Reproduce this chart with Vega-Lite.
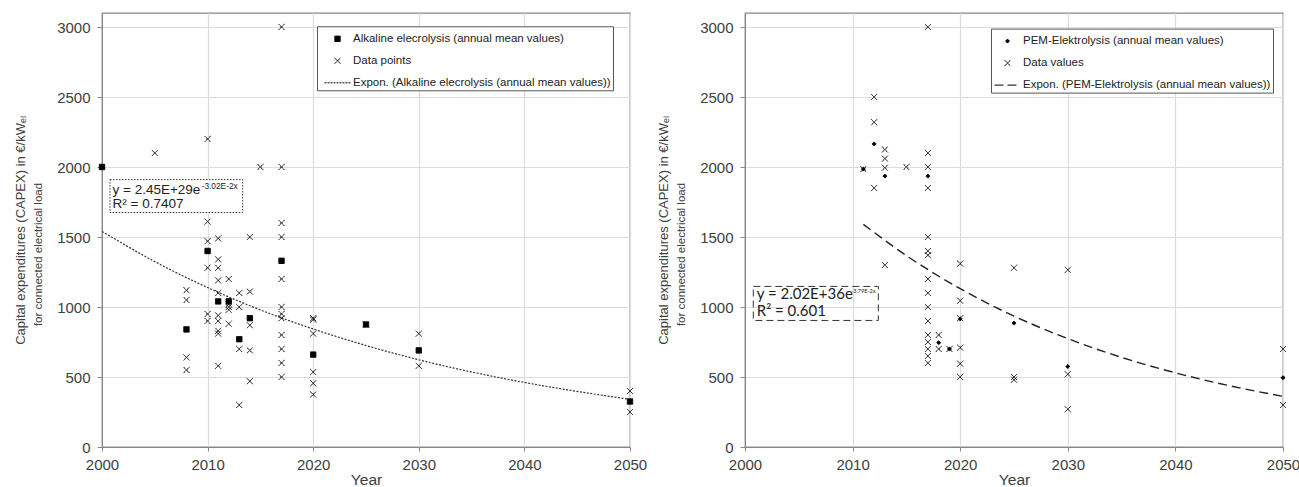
{
  "$schema": "https://vega.github.io/schema/vega-lite/v6.json",
  "background": "white",
  "padding": {"left": 13, "top": 12, "right": 0, "bottom": 0},
  "config": {
    "font": "Liberation Sans",
    "view": {"stroke": "#888888", "strokeWidth": 1.3},
    "axis": {
      "domainColor": "#888888", "tickColor": "#888888", "gridColor": "#dcdcdc", "gridWidth": 1.2,
      "labelColor": "#404040", "titleColor": "#404040", "labelFontSize": 15, "titleFontWeight": "normal",
      "labelFont": "Liberation Sans", "titleFont": "Liberation Sans"
    }
  },
  "datasets": {
    "leftPts": [
      {"year": 2005, "value": 2100, "series": "Data points"},
      {"year": 2008, "value": 1120, "series": "Data points"},
      {"year": 2008, "value": 1050, "series": "Data points"},
      {"year": 2008, "value": 640, "series": "Data points"},
      {"year": 2008, "value": 550, "series": "Data points"},
      {"year": 2010, "value": 2200, "series": "Data points"},
      {"year": 2010, "value": 1610, "series": "Data points"},
      {"year": 2010, "value": 1470, "series": "Data points"},
      {"year": 2010, "value": 1280, "series": "Data points"},
      {"year": 2010, "value": 950, "series": "Data points"},
      {"year": 2010, "value": 900, "series": "Data points"},
      {"year": 2011, "value": 1490, "series": "Data points"},
      {"year": 2011, "value": 1340, "series": "Data points"},
      {"year": 2011, "value": 1280, "series": "Data points"},
      {"year": 2011, "value": 1190, "series": "Data points"},
      {"year": 2011, "value": 1100, "series": "Data points"},
      {"year": 2011, "value": 940, "series": "Data points"},
      {"year": 2011, "value": 900, "series": "Data points"},
      {"year": 2011, "value": 830, "series": "Data points"},
      {"year": 2011, "value": 810, "series": "Data points"},
      {"year": 2011, "value": 580, "series": "Data points"},
      {"year": 2012, "value": 1200, "series": "Data points"},
      {"year": 2012, "value": 1020, "series": "Data points"},
      {"year": 2012, "value": 1000, "series": "Data points"},
      {"year": 2012, "value": 980, "series": "Data points"},
      {"year": 2012, "value": 880, "series": "Data points"},
      {"year": 2013, "value": 1100, "series": "Data points"},
      {"year": 2013, "value": 1000, "series": "Data points"},
      {"year": 2013, "value": 700, "series": "Data points"},
      {"year": 2013, "value": 300, "series": "Data points"},
      {"year": 2014, "value": 1500, "series": "Data points"},
      {"year": 2014, "value": 1110, "series": "Data points"},
      {"year": 2014, "value": 870, "series": "Data points"},
      {"year": 2014, "value": 690, "series": "Data points"},
      {"year": 2014, "value": 470, "series": "Data points"},
      {"year": 2015, "value": 2000, "series": "Data points"},
      {"year": 2017, "value": 3000, "series": "Data points"},
      {"year": 2017, "value": 2000, "series": "Data points"},
      {"year": 2017, "value": 1600, "series": "Data points"},
      {"year": 2017, "value": 1500, "series": "Data points"},
      {"year": 2017, "value": 1200, "series": "Data points"},
      {"year": 2017, "value": 1000, "series": "Data points"},
      {"year": 2017, "value": 950, "series": "Data points"},
      {"year": 2017, "value": 920, "series": "Data points"},
      {"year": 2017, "value": 800, "series": "Data points"},
      {"year": 2017, "value": 700, "series": "Data points"},
      {"year": 2017, "value": 600, "series": "Data points"},
      {"year": 2017, "value": 500, "series": "Data points"},
      {"year": 2020, "value": 920, "series": "Data points"},
      {"year": 2020, "value": 910, "series": "Data points"},
      {"year": 2020, "value": 810, "series": "Data points"},
      {"year": 2020, "value": 535, "series": "Data points"},
      {"year": 2020, "value": 455, "series": "Data points"},
      {"year": 2020, "value": 375, "series": "Data points"},
      {"year": 2025, "value": 875, "series": "Data points"},
      {"year": 2030, "value": 810, "series": "Data points"},
      {"year": 2030, "value": 580, "series": "Data points"},
      {"year": 2050, "value": 400, "series": "Data points"},
      {"year": 2050, "value": 250, "series": "Data points"},
      {"year": 2000, "value": 2000, "series": "Alkaline elecrolysis (annual mean values)"},
      {"year": 2008, "value": 840, "series": "Alkaline elecrolysis (annual mean values)"},
      {"year": 2010, "value": 1400, "series": "Alkaline elecrolysis (annual mean values)"},
      {"year": 2011, "value": 1040, "series": "Alkaline elecrolysis (annual mean values)"},
      {"year": 2012, "value": 1040, "series": "Alkaline elecrolysis (annual mean values)"},
      {"year": 2013, "value": 770, "series": "Alkaline elecrolysis (annual mean values)"},
      {"year": 2014, "value": 920, "series": "Alkaline elecrolysis (annual mean values)"},
      {"year": 2017, "value": 1330, "series": "Alkaline elecrolysis (annual mean values)"},
      {"year": 2020, "value": 660, "series": "Alkaline elecrolysis (annual mean values)"},
      {"year": 2025, "value": 875, "series": "Alkaline elecrolysis (annual mean values)"},
      {"year": 2030, "value": 690, "series": "Alkaline elecrolysis (annual mean values)"},
      {"year": 2050, "value": 325, "series": "Alkaline elecrolysis (annual mean values)"}
    ],
    "leftTrend": [
      {"year": 2000, "value": 1540}, {"year": 2005, "value": 1324}, {"year": 2010, "value": 1139},
      {"year": 2015, "value": 979}, {"year": 2020, "value": 843}, {"year": 2025, "value": 725},
      {"year": 2030, "value": 623}, {"year": 2035, "value": 536}, {"year": 2040, "value": 461},
      {"year": 2045, "value": 397}, {"year": 2050, "value": 341}
    ],
    "leftBox": [{"x0": 2000.76, "x1": 2013.32, "y0": 1910, "y1": 1675}],
    "leftEq": [
      {"x": 2001.0, "y": 1808, "text": "y = 2.45E+29e"},
      {"x": 2001.0, "y": 1708, "text": "R² = 0.7407"}
    ],
    "leftSup": [{"x": 2009.44, "y": 1842, "text": "-3.02E-2x"}],
    "rightPts": [
      {"year": 2011, "value": 1985, "series": "Data values"},
      {"year": 2012, "value": 2500, "series": "Data values"},
      {"year": 2012, "value": 2320, "series": "Data values"},
      {"year": 2012, "value": 1850, "series": "Data values"},
      {"year": 2013, "value": 2125, "series": "Data values"},
      {"year": 2013, "value": 2060, "series": "Data values"},
      {"year": 2013, "value": 1995, "series": "Data values"},
      {"year": 2013, "value": 1300, "series": "Data values"},
      {"year": 2015, "value": 2000, "series": "Data values"},
      {"year": 2017, "value": 3000, "series": "Data values"},
      {"year": 2017, "value": 2100, "series": "Data values"},
      {"year": 2017, "value": 2000, "series": "Data values"},
      {"year": 2017, "value": 1850, "series": "Data values"},
      {"year": 2017, "value": 1500, "series": "Data values"},
      {"year": 2017, "value": 1400, "series": "Data values"},
      {"year": 2017, "value": 1370, "series": "Data values"},
      {"year": 2017, "value": 1200, "series": "Data values"},
      {"year": 2017, "value": 1100, "series": "Data values"},
      {"year": 2017, "value": 1000, "series": "Data values"},
      {"year": 2017, "value": 900, "series": "Data values"},
      {"year": 2017, "value": 800, "series": "Data values"},
      {"year": 2017, "value": 750, "series": "Data values"},
      {"year": 2017, "value": 700, "series": "Data values"},
      {"year": 2017, "value": 650, "series": "Data values"},
      {"year": 2017, "value": 600, "series": "Data values"},
      {"year": 2018, "value": 800, "series": "Data values"},
      {"year": 2018, "value": 700, "series": "Data values"},
      {"year": 2019, "value": 700, "series": "Data values"},
      {"year": 2020, "value": 1310, "series": "Data values"},
      {"year": 2020, "value": 1045, "series": "Data values"},
      {"year": 2020, "value": 920, "series": "Data values"},
      {"year": 2020, "value": 710, "series": "Data values"},
      {"year": 2020, "value": 595, "series": "Data values"},
      {"year": 2020, "value": 500, "series": "Data values"},
      {"year": 2025, "value": 1280, "series": "Data values"},
      {"year": 2025, "value": 500, "series": "Data values"},
      {"year": 2025, "value": 480, "series": "Data values"},
      {"year": 2030, "value": 1265, "series": "Data values"},
      {"year": 2030, "value": 520, "series": "Data values"},
      {"year": 2030, "value": 270, "series": "Data values"},
      {"year": 2050, "value": 700, "series": "Data values"},
      {"year": 2050, "value": 300, "series": "Data values"},
      {"year": 2011, "value": 1985, "series": "PEM-Elektrolysis (annual mean values)"},
      {"year": 2012, "value": 2165, "series": "PEM-Elektrolysis (annual mean values)"},
      {"year": 2013, "value": 1935, "series": "PEM-Elektrolysis (annual mean values)"},
      {"year": 2017, "value": 1935, "series": "PEM-Elektrolysis (annual mean values)"},
      {"year": 2018, "value": 745, "series": "PEM-Elektrolysis (annual mean values)"},
      {"year": 2019, "value": 700, "series": "PEM-Elektrolysis (annual mean values)"},
      {"year": 2020, "value": 915, "series": "PEM-Elektrolysis (annual mean values)"},
      {"year": 2025, "value": 885, "series": "PEM-Elektrolysis (annual mean values)"},
      {"year": 2030, "value": 575, "series": "PEM-Elektrolysis (annual mean values)"},
      {"year": 2050, "value": 495, "series": "PEM-Elektrolysis (annual mean values)"}
    ],
    "rightTrend": [
      {"year": 2011, "value": 1590}, {"year": 2015, "value": 1367}, {"year": 2020, "value": 1131},
      {"year": 2025, "value": 935}, {"year": 2030, "value": 774}, {"year": 2035, "value": 640},
      {"year": 2040, "value": 530}, {"year": 2045, "value": 438}, {"year": 2050, "value": 362}
    ],
    "rightBox": [{"x0": 2000.77, "x1": 2012.39, "y0": 1147, "y1": 904}],
    "rightEq": [
      {"x": 2001.09, "y": 1059, "text": "y = 2.02E+36e"},
      {"x": 2001.09, "y": 933, "text": "R² = 0.601"}
    ],
    "rightSup": [{"x": 2009.88, "y": 1099, "text": "-3.79E-2x"}]
  },
  "spacing": 8,
  "resolve": {"scale": {"shape": "independent", "strokeDash": "independent"}, "legend": {"shape": "independent", "strokeDash": "independent"}},
  "hconcat": [
    {
      "width": 528,
      "height": 434,
      "resolve": {"axis": {"y": "independent"}},
      "layer": [
        {
          "data": {"name": "leftTrend"},
          "mark": {"type": "line", "color": "#333333", "strokeWidth": 1.2, "strokeDash": [2, 1.5], "interpolate": "monotone"},
          "encoding": {
            "x": {"field": "year", "type": "quantitative", "scale": {"domain": [2000, 2050], "nice": false, "zero": false},
              "axis": {"values": [2000, 2010, 2020, 2030, 2040, 2050], "format": "d", "title": "Year", "titleFontSize": 15.5, "titlePadding": 0, "tickSize": 4, "labelPadding": 6, "grid": true, "labelFlush": false}},
            "y": {"field": "value", "type": "quantitative", "scale": {"domain": [0, 3100], "nice": false},
              "axis": {"orient": "left", "labels": false, "ticks": false, "domain": false, "grid": false, "minExtent": 0, "maxExtent": 0, "title": "Capital expenditures  (CAPEX) in €/kWₑₗ", "titleFontSize": 13, "titlePadding": 75}}
          }
        },
        {
          "data": {"name": "leftBox"},
          "mark": {"type": "rect", "fill": "white", "stroke": "#333333", "strokeWidth": 1, "strokeDash": [1.5, 1.5]},
          "encoding": {
            "x": {"field": "x0", "type": "quantitative"},
            "x2": {"field": "x1"},
            "y": {"field": "y0", "type": "quantitative", "axis": null},
            "y2": {"field": "y1"}
          }
        },
        {
          "data": {"name": "leftEq"},
          "mark": {"type": "text", "align": "left", "baseline": "alphabetic", "fontSize": 13.5, "color": "#222222"},
          "encoding": {
            "x": {"field": "x", "type": "quantitative"},
            "y": {"field": "y", "type": "quantitative", "axis": null},
            "text": {"field": "text"}
          }
        },
        {
          "data": {"name": "leftSup"},
          "mark": {"type": "text", "align": "left", "baseline": "alphabetic", "fontSize": 8.3, "color": "#222222"},
          "encoding": {
            "x": {"field": "x", "type": "quantitative"},
            "y": {"field": "y", "type": "quantitative", "axis": null},
            "text": {"field": "text"}
          }
        },
        {
          "data": {"name": "leftPts"},
          "mark": {"type": "point", "filled": true, "fill": "#000000", "stroke": "#000000", "strokeWidth": 1, "size": 400, "opacity": 1},
          "encoding": {
            "x": {"field": "year", "type": "quantitative"},
            "y": {"field": "value", "type": "quantitative",
              "axis": {"orient": "left", "values": [0, 500, 1000, 1500, 2000, 2500, 3000], "format": "d", "tickSize": 5, "labelPadding": 7, "grid": true, "title": "for connected electrical load", "titleFontSize": 11.5, "titlePadding": 13, "titleY": 241}},
            "shape": {"field": "series", "type": "nominal",
              "scale": {"domain": ["Alkaline elecrolysis (annual mean values)", "Data points", "Expon. (Alkaline elecrolysis (annual mean values))"],
                "range": ["M-0.27,-0.27H0.27V0.27H-0.27Z", "M-0.3,-0.3L0.3,0.3M-0.3,0.3L0.3,-0.3", "M-1.3,0H1.3"]},
              "legend": {"orient": "none", "legendX": 215, "legendY": 13.3, "title": null, "strokeColor": "#555555", "fillColor": "white", "padding": 2, "symbolOffset": 8, "labelOffset": 5, "rowPadding": 6, "symbolSize": 400, "symbolStrokeWidth": 1, "labelFontSize": 11.5, "labelFont": "Liberation Sans", "labelColor": "#222222", "labelLimit": 400}},
            "strokeDash": {"field": "series", "type": "nominal",
              "scale": {"domain": ["Alkaline elecrolysis (annual mean values)", "Data points", "Expon. (Alkaline elecrolysis (annual mean values))"],
                "range": [[1, 0], [1, 0], [2, 1]]},
              "legend": {"orient": "none", "legendX": 215, "legendY": 13.3, "title": null, "strokeColor": "#555555", "fillColor": "white", "padding": 2, "symbolOffset": 8, "labelOffset": 5, "rowPadding": 6, "symbolSize": 400, "symbolStrokeWidth": 1, "labelFontSize": 11.5, "labelFont": "Liberation Sans", "labelColor": "#222222", "labelLimit": 400}}
          }
        }
      ]
    },
    {
      "width": 538,
      "height": 434,
      "resolve": {"axis": {"y": "independent"}},
      "layer": [
        {
          "data": {"name": "rightTrend"},
          "mark": {"type": "line", "color": "#222222", "strokeWidth": 1.4, "strokeDash": [9, 5], "interpolate": "monotone"},
          "encoding": {
            "x": {"field": "year", "type": "quantitative", "scale": {"domain": [2000, 2050], "nice": false, "zero": false},
              "axis": {"values": [2000, 2010, 2020, 2030, 2040, 2050], "format": "d", "title": "Year", "titleFontSize": 15.5, "titlePadding": 0, "tickSize": 4, "labelPadding": 6, "grid": true, "labelFlush": false}},
            "y": {"field": "value", "type": "quantitative", "scale": {"domain": [0, 3100], "nice": false},
              "axis": {"orient": "left", "labels": false, "ticks": false, "domain": false, "grid": false, "minExtent": 0, "maxExtent": 0, "title": "Capital expenditures  (CAPEX) in €/kWₑₗ", "titleFontSize": 13, "titlePadding": 75}}
          }
        },
        {
          "data": {"name": "rightBox"},
          "mark": {"type": "rect", "fill": "white", "fillOpacity": 0, "stroke": "#333333", "strokeWidth": 1, "strokeDash": [7, 4]},
          "encoding": {
            "x": {"field": "x0", "type": "quantitative"},
            "x2": {"field": "x1"},
            "y": {"field": "y0", "type": "quantitative", "axis": null},
            "y2": {"field": "y1"}
          }
        },
        {
          "data": {"name": "rightEq"},
          "mark": {"type": "text", "align": "left", "baseline": "alphabetic", "fontSize": 15, "font": "Lato", "color": "#222222"},
          "encoding": {
            "x": {"field": "x", "type": "quantitative"},
            "y": {"field": "y", "type": "quantitative", "axis": null},
            "text": {"field": "text"}
          }
        },
        {
          "data": {"name": "rightSup"},
          "mark": {"type": "text", "align": "left", "baseline": "alphabetic", "fontSize": 5.5, "font": "Lato", "color": "#222222"},
          "encoding": {
            "x": {"field": "x", "type": "quantitative"},
            "y": {"field": "y", "type": "quantitative", "axis": null},
            "text": {"field": "text"}
          }
        },
        {
          "data": {"name": "rightPts"},
          "mark": {"type": "point", "filled": true, "fill": "#000000", "stroke": "#000000", "strokeWidth": 1, "size": 400, "opacity": 1},
          "encoding": {
            "x": {"field": "year", "type": "quantitative"},
            "y": {"field": "value", "type": "quantitative",
              "axis": {"orient": "left", "values": [0, 500, 1000, 1500, 2000, 2500, 3000], "format": "d", "tickSize": 5, "labelPadding": 7, "grid": true, "title": "for connected electrical load", "titleFontSize": 11.5, "titlePadding": 13, "titleY": 241}},
            "shape": {"field": "series", "type": "nominal",
              "scale": {"domain": ["PEM-Elektrolysis (annual mean values)", "Data values", "Expon. (PEM-Elektrolysis (annual mean values))"],
                "range": ["M0,-0.2L0.2,0L0,0.2L-0.2,0Z", "M-0.3,-0.3L0.3,0.3M-0.3,0.3L0.3,-0.3", "M-1.3,0H1.3"]},
              "legend": {"orient": "none", "legendX": 246, "legendY": 15.6, "title": null, "strokeColor": "#555555", "fillColor": "white", "padding": 2, "symbolOffset": 4, "labelOffset": 5, "rowPadding": 6, "symbolSize": 400, "symbolStrokeWidth": 1, "labelFontSize": 11.5, "labelFont": "Liberation Sans", "labelColor": "#222222", "labelLimit": 400}},
            "strokeDash": {"field": "series", "type": "nominal",
              "scale": {"domain": ["PEM-Elektrolysis (annual mean values)", "Data values", "Expon. (PEM-Elektrolysis (annual mean values))"],
                "range": [[1, 0], [1, 0], [9, 4]]},
              "legend": {"orient": "none", "legendX": 246, "legendY": 15.6, "title": null, "strokeColor": "#555555", "fillColor": "white", "padding": 2, "symbolOffset": 4, "labelOffset": 5, "rowPadding": 6, "symbolSize": 400, "symbolStrokeWidth": 1, "labelFontSize": 11.5, "labelFont": "Liberation Sans", "labelColor": "#222222", "labelLimit": 400}}
          }
        }
      ]
    }
  ]
}
